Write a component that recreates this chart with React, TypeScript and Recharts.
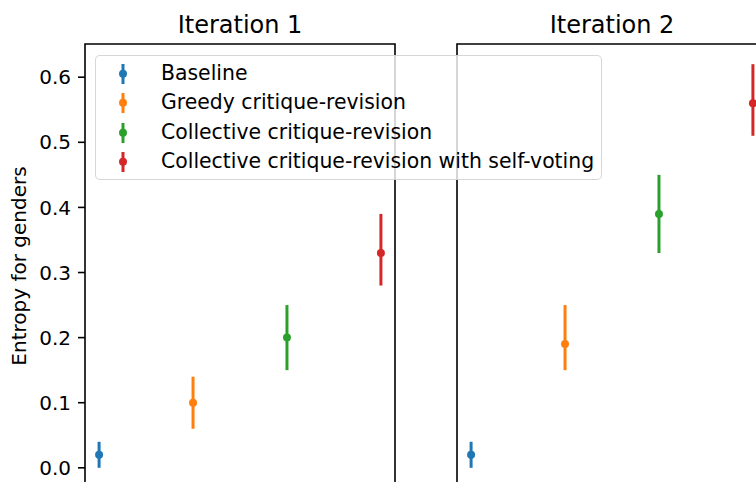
import {
  ErrorBar,
  Legend,
  ReferenceArea,
  Scatter,
  ScatterChart,
  XAxis,
  YAxis,
} from 'recharts';

const methods = [
  'Baseline',
  'Greedy critique-revision',
  'Collective critique-revision',
  'Collective critique-revision with self-voting',
];
const colors = ['#1f77b4', '#ff7f0e', '#2ca02c', '#d62728'];

const iter1Mean = [0.02, 0.1, 0.2, 0.33];
const iter1Low = [0.0, 0.06, 0.15, 0.28];
const iter1High = [0.04, 0.14, 0.25, 0.39];

const iter2Mean = [0.02, 0.19, 0.39, 0.56];
const iter2Low = [0.0, 0.15, 0.33, 0.51];
const iter2High = [0.04, 0.25, 0.45, 0.62];

const yTicks = [0, 0.1, 0.2, 0.3, 0.4, 0.5, 0.6];
const xDomain = [-0.15, 3.15];
const yDomain = [-0.031, 0.651];

const font = '"DejaVu Sans", sans-serif';

const points = (mean: number[], low: number[], high: number[]) =>
  mean.map((m, i) => [{ x: i, y: m, err: [m - low[i], high[i] - m] }]);

const YLabel = (props: any) => {
  const { viewBox } = props;
  const x = viewBox.x + 19;
  const y = viewBox.y + viewBox.height / 2;
  return (
    <text
      x={x}
      y={y}
      transform={`rotate(-90, ${x}, ${y})`}
      textAnchor='middle'
      dominantBaseline='central'
      fontSize={20}
      fontFamily={font}
      fill='#000'
    >
      Entropy for genders
    </text>
  );
};

const renderLegend = () => (
  <div
    style={{
      width: 507,
      height: 125,
      boxSizing: 'border-box',
      border: '1.6px solid rgba(204,204,204,0.8)',
      borderRadius: 5,
      background: 'rgba(255,255,255,0.8)',
      paddingTop: 2.5,
      fontFamily: font,
    }}
  >
    {methods.map((name, i) => (
      <div key={name} style={{ display: 'flex', alignItems: 'center', height: 29.6 }}>
        <svg width={65} height={29.6} style={{ flex: 'none' }}>
          <line x1={27} x2={27} y1={5} y2={25} stroke={colors[i]} strokeWidth={3} />
          <circle cx={27} cy={14.8} r={4} fill={colors[i]} />
        </svg>
        <span style={{ fontSize: 20.4, color: '#000', lineHeight: '29.6px', whiteSpace: 'nowrap' }}>
          {name}
        </span>
      </div>
    ))}
  </div>
);

function Panel({
  series,
  showLabels,
  yAxisWidth,
  width,
  right,
  legend,
}: {
  series: { x: number; y: number; err: number[] }[][];
  showLabels: boolean;
  yAxisWidth: number;
  width: number;
  right: number;
  legend?: boolean;
}) {
  return (
    <ScatterChart
      width={width}
      height={520}
      margin={{ top: 44, right, bottom: 32, left: 0 }}
    >
      <XAxis type='number' dataKey='x' domain={xDomain} allowDataOverflow hide />
      <YAxis
        type='number'
        dataKey='y'
        domain={yDomain}
        allowDataOverflow
        ticks={yTicks}
        width={yAxisWidth}
        tickSize={7}
        tickMargin={7}
        axisLine={false}
        tickLine={{ stroke: '#000', strokeWidth: 1.6 }}
        tick={showLabels ? { fontSize: 20, fill: '#000', fontFamily: font } : false}
        tickFormatter={(v: number) => v.toFixed(1)}
        label={showLabels ? <YLabel /> : undefined}
      />
      <ReferenceArea
        x1={xDomain[0]}
        x2={xDomain[1]}
        y1={yDomain[0]}
        y2={yDomain[1]}
        fill='none'
        stroke='#000'
        strokeWidth={1.6}
        fillOpacity={0}
        strokeOpacity={1}
      />
      {series.map((data, i) => (
        <Scatter
          key={methods[i]}
          name={methods[i]}
          data={data}
          fill={colors[i]}
          isAnimationActive={false}
          shape={(p: any) => <circle cx={p.cx} cy={p.cy} r={4} fill={colors[i]} />}
        >
          <ErrorBar
            dataKey='err'
            direction='y'
            width={0}
            stroke={colors[i]}
            strokeWidth={3}
            isAnimationActive={false}
          />
        </Scatter>
      ))}
      {legend && (
        <Legend
          layout='vertical'
          align='center'
          verticalAlign='middle'
          content={renderLegend}
          wrapperStyle={{ position: 'absolute', left: 95, top: 55, width: 507, height: 125, zIndex: 5 }}
        />
      )}
    </ScatterChart>
  );
}

const titleStyle = {
  position: 'absolute' as const,
  top: 13,
  width: 310,
  textAlign: 'center' as const,
  fontSize: 24,
  lineHeight: '24px',
  fontFamily: font,
  color: '#000',
};

export default function App() {
  return (
    <div
      style={{
        position: 'absolute',
        left: 0,
        top: 0,
        width: 756,
        height: 482,
        overflow: 'hidden',
        background: '#fff',
        fontFamily: font,
      }}
    >
      <div style={{ ...titleStyle, left: 85 }}>Iteration 1</div>
      <div style={{ ...titleStyle, left: 457 }}>Iteration 2</div>
      <div style={{ position: 'absolute', left: 437, top: 0, zIndex: 1 }}>
        <Panel
          series={points(iter2Mean, iter2Low, iter2High)}
          showLabels={false}
          yAxisWidth={20}
          width={340}
          right={10}
        />
      </div>
      <div style={{ position: 'absolute', left: 0, top: 0, zIndex: 2 }}>
        <Panel
          series={points(iter1Mean, iter1Low, iter1High)}
          showLabels
          yAxisWidth={85}
          width={420}
          right={25}
          legend
        />
      </div>
    </div>
  );
}
